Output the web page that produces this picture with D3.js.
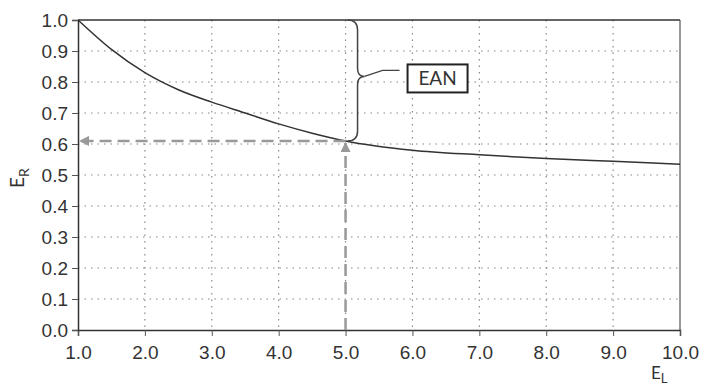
<!DOCTYPE html>
<html>
<head>
<meta charset="utf-8">
<script src="https://cdn.jsdelivr.net/npm/d3@7"></script>
<style>
  body { margin: 0; background: #fff; }
  svg { font-family: "Lato", "Open Sans", sans-serif; }
  .tick text { fill: #333; font-size: 19px; }
</style>
</head>
<body>
<svg id="chart" width="705" height="386"></svg>
<script>
// values
const eL = [1.0, 1.5, 2.0, 2.5, 3.0, 3.5, 4.0, 4.5, 5.0, 6.0, 7.0, 8.0, 9.0, 10.0];
const eR = [1.0, 0.905, 0.83, 0.775, 0.735, 0.70, 0.665, 0.635, 0.61, 0.58, 0.565, 0.553, 0.544, 0.535];
const xTicks = [1, 2, 3, 4, 5, 6, 7, 8, 9, 10];
const yTicks = [0, 0.1, 0.2, 0.3, 0.4, 0.5, 0.6, 0.7, 0.8, 0.9, 1.0];
const markerX = 5.0;
const markerY = 0.61;
const boxLabel = "EAN";

const svg = d3.select("#chart");
const margin = { top: 20, right: 25, bottom: 56, left: 78 };
const width = +svg.attr("width") - margin.left - margin.right;
const height = +svg.attr("height") - margin.top - margin.bottom;

const g = svg.append("g")
  .attr("transform", "translate(" + margin.left + "," + margin.top + ")");

const x = d3.scaleLinear().domain([1, 10]).range([0, width]);
const y = d3.scaleLinear().domain([0, 1]).range([height, 0]);

// dotted grid
g.append("g").selectAll("line")
  .data(yTicks.slice(1, -1))
  .enter().append("line")
  .attr("x1", 0).attr("x2", width)
  .attr("y1", d => y(d)).attr("y2", d => y(d))
  .attr("stroke", "#888").attr("stroke-width", 1.2)
  .attr("stroke-dasharray", "1.5,5");
g.append("g").selectAll("line")
  .data(xTicks.slice(1, -1))
  .enter().append("line")
  .attr("x1", d => x(d)).attr("x2", d => x(d))
  .attr("y1", 0).attr("y2", height)
  .attr("stroke", "#888").attr("stroke-width", 1.2)
  .attr("stroke-dasharray", "1.5,5");

// frame top / right
g.append("line").attr("x1", 0).attr("x2", width).attr("y1", 0).attr("y2", 0)
  .attr("stroke", "#333").attr("stroke-width", 1.5);
g.append("line").attr("x1", width).attr("x2", width).attr("y1", 0).attr("y2", height)
  .attr("stroke", "#555").attr("stroke-width", 1.2);

// axes
const xAxis = g.append("g")
  .attr("transform", "translate(0," + height + ")")
  .call(d3.axisBottom(x).tickValues(xTicks).tickFormat(d3.format(".1f")).tickSize(6).tickPadding(10));
const yAxis = g.append("g")
  .call(d3.axisLeft(y).tickValues(yTicks).tickFormat(d3.format(".1f")).tickSize(6).tickPadding(4));
[xAxis, yAxis].forEach(a => {
  a.select(".domain").attr("stroke", "#333").attr("stroke-width", 1.5);
  a.selectAll(".tick line").attr("stroke", "#555");
});
xAxis.selectAll(".tick line").attr("y1", 0).attr("y2", 6);

// axis titles
const yTitle = svg.append("text")
  .attr("transform", "translate(24," + (margin.top + y(0.49)) + ") rotate(-90)")
  .attr("text-anchor", "middle").attr("fill", "#333").attr("font-size", 19);
yTitle.append("tspan").text("E");
yTitle.append("tspan").attr("font-size", 14).attr("dy", 5).text("R");

const xTitle = svg.append("text")
  .attr("x", 651).attr("y", 379)
  .attr("fill", "#333").attr("font-size", 17);
xTitle.append("tspan").text("E");
xTitle.append("tspan").attr("font-size", 13).attr("dy", 4).text("L");

// curve
const pts = eL.map((d, i) => [d, eR[i]]);
g.append("path")
  .datum(pts)
  .attr("fill", "none")
  .attr("stroke", "#333")
  .attr("stroke-width", 1.5)
  .attr("d", d3.line().x(d => x(d[0])).y(d => y(d[1])).curve(d3.curveMonotoneX));

// dashed reading lines with arrows
svg.append("defs").append("marker")
  .attr("id", "arr")
  .attr("viewBox", "0 0 10 10")
  .attr("refX", 9).attr("refY", 5)
  .attr("markerWidth", 4).attr("markerHeight", 4)
  .attr("orient", "auto")
  .append("path").attr("d", "M0,0L10,5L0,10Z").attr("fill", "#999");

g.append("line")
  .attr("x1", x(markerX)).attr("y1", y(markerY))
  .attr("x2", x(1) + 2).attr("y2", y(markerY))
  .attr("stroke", "#999").attr("stroke-width", 2.5)
  .attr("stroke-dasharray", "12,6")
  .attr("marker-end", "url(#arr)");
g.append("line")
  .attr("x1", x(markerX)).attr("y1", y(0))
  .attr("x2", x(markerX)).attr("y2", y(markerY) + 2)
  .attr("stroke", "#999").attr("stroke-width", 2.5)
  .attr("stroke-dasharray", "12,6")
  .attr("marker-end", "url(#arr)");

// curly brace from 1.0 down to the marker value
const bx = x(markerX) + 2;
const bTop = y(1), bBot = y(markerY), bMid = (bTop + bBot) / 2 - 4;
const bw = 10;
const brace = "M" + bx + "," + bTop +
  " Q" + (bx + bw) + "," + bTop + " " + (bx + bw) + "," + (bTop + 10) +
  " L" + (bx + bw) + "," + (bMid - 8) +
  " Q" + (bx + bw) + "," + bMid + " " + (bx + bw + 7) + "," + bMid +
  " Q" + (bx + bw) + "," + bMid + " " + (bx + bw) + "," + (bMid + 8) +
  " L" + (bx + bw) + "," + (bBot - 10) +
  " Q" + (bx + bw) + "," + bBot + " " + bx + "," + bBot;
g.append("path").attr("d", brace)
  .attr("fill", "none").attr("stroke", "#444").attr("stroke-width", 1.5);

// leader line to the label box
g.append("path")
  .attr("d", "M" + (bx + bw + 7) + "," + bMid + " L" + (bx + bw + 25) + "," + (bMid - 6) + " L" + (bx + bw + 42) + "," + (bMid - 6))
  .attr("fill", "none").attr("stroke", "#444").attr("stroke-width", 1.3);

const boxX = bx + bw + 50, boxY = bMid - 12;
g.append("rect")
  .attr("x", boxX).attr("y", boxY)
  .attr("width", 60).attr("height", 28)
  .attr("fill", "#fff").attr("stroke", "#222").attr("stroke-width", 2);
g.append("text")
  .attr("x", boxX + 30).attr("y", boxY + 21)
  .attr("text-anchor", "middle").attr("fill", "#333").attr("font-size", 19)
  .text(boxLabel);
</script>
</body>
</html>
